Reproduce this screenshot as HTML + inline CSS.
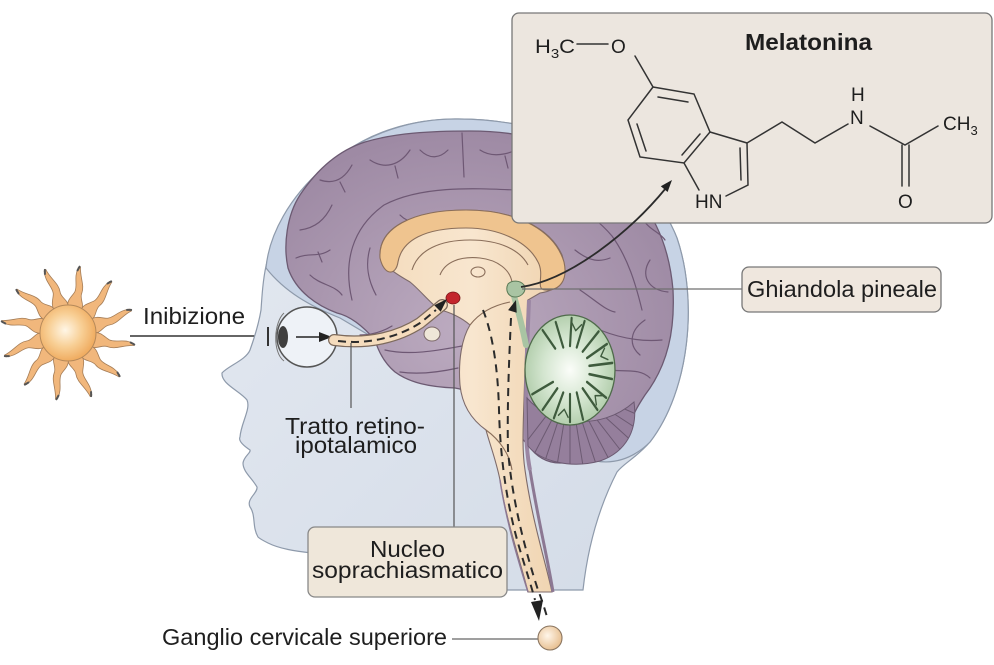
<!DOCTYPE html>
<html><head><meta charset="utf-8"><style>
html,body{margin:0;padding:0;background:#fff;}
svg{display:block;}
text{font-family:"Liberation Sans",Arial,sans-serif;fill:#1e1e1e;}
</style></head><body>
<svg width="994" height="665" viewBox="0 0 994 665" xmlns="http://www.w3.org/2000/svg">
<defs>
<radialGradient id="sunG" cx="0.45" cy="0.45" r="0.6"><stop offset="0" stop-color="#fff6e6"/><stop offset="0.5" stop-color="#f8cf95"/><stop offset="1" stop-color="#eea556"/></radialGradient>
<linearGradient id="headG" x1="0" y1="0" x2="1" y2="1"><stop offset="0" stop-color="#e4e9f1"/><stop offset="1" stop-color="#d3dbe7"/></linearGradient>
<radialGradient id="brainG" cx="0.45" cy="0.6" r="0.6"><stop offset="0" stop-color="#bcabc0"/><stop offset="1" stop-color="#9e8aa4"/></radialGradient>
<radialGradient id="cbG" cx="0.5" cy="0.5" r="0.5"><stop offset="0" stop-color="#fbfdf9"/><stop offset="0.6" stop-color="#d3e5cf"/><stop offset="1" stop-color="#b4cfae"/></radialGradient>
<linearGradient id="stemG" x1="0" y1="0" x2="1" y2="0"><stop offset="0" stop-color="#f4dcbd"/><stop offset="0.5" stop-color="#f8e6cf"/><stop offset="1" stop-color="#efd2ad"/></linearGradient>
<radialGradient id="gangG" cx="0.4" cy="0.4" r="0.6"><stop offset="0" stop-color="#fff6ea"/><stop offset="1" stop-color="#e8c193"/></radialGradient>
<clipPath id="lowcb"><path d="M527,398 C550,425 600,432 634,402 C638,430 626,452 600,461 C570,469 540,461 528,446 Z"/></clipPath>
<g id="ray">
<path d="M-7,-25 C-10,-32 -5,-37 -4,-42 C-3,-49 -9,-55 -7,-66 L-5,-67 C-3,-57 4,-50 3,-42 C2,-36 9,-32 7,-25 Z" fill="#f1b77c" stroke="#a57d57" stroke-width="0.8"/>
<path d="M-7,-63 L-6,-67" stroke="#555" stroke-width="2" stroke-linecap="round"/>
</g>
</defs>

<!-- SUN -->
<g transform="translate(68,333)">
<use href="#ray" transform="rotate(15)"/>
<use href="#ray" transform="rotate(45)"/>
<use href="#ray" transform="rotate(75)"/>
<use href="#ray" transform="rotate(105)"/>
<use href="#ray" transform="rotate(135)"/>
<use href="#ray" transform="rotate(165)"/>
<use href="#ray" transform="rotate(195)"/>
<use href="#ray" transform="rotate(225)"/>
<use href="#ray" transform="rotate(255)"/>
<use href="#ray" transform="rotate(285)"/>
<use href="#ray" transform="rotate(315)"/>
<use href="#ray" transform="rotate(345)"/>
<circle r="28" fill="url(#sunG)" stroke="#b5895a" stroke-width="1"/>
</g>

<!-- Inibizione -->
<text x="143" y="324" font-size="23" textLength="102" lengthAdjust="spacingAndGlyphs">Inibizione</text>
<line x1="130" y1="336" x2="268" y2="336" stroke="#333" stroke-width="1.5"/>

<!-- HEAD -->
<path d="M300,200 C330,150 385,120 455,119 C560,118 650,168 677,238 C698,300 690,390 650,442 C636,458 624,463 617,472 C600,505 588,545 583,590 L330,590 L312,553 C295,551 280,549 268,543 C262,540 259,538 258,537 C252,527 256,515 250,507 C246,499 258,493 257,487 C252,478 243,472 243,463 C244,456 251,453 250,450 C244,446 238,441 240,437 C241,423 251,409 247,400 C240,391 221,384 222,373 C228,366 246,360 250,350 C255,336 259,322 261,310 C262,295 263,280 266,266 C270,245 283,222 300,200 Z" fill="url(#headG)" stroke="#8e9aab" stroke-width="1.2"/>
<!-- skull band -->
<path d="M266,268 C272,200 350,119 455,119 C560,118 650,168 677,238 C698,300 690,390 650,442 C632,460 612,464 596,461 L540,450 L470,395 L340,318 C310,306 285,292 266,268 Z" fill="#c7d3e5" stroke="#8e9aab" stroke-width="1.2"/>

<!-- BRAIN -->
<path d="M337,313 C318,306 296,292 288,268 C283,245 287,215 300,195 C318,168 340,150 365,142 C395,133 430,131 470,131 C500,131 530,135 555,145 C590,158 620,175 640,200 C660,225 670,255 673,290 C675,330 668,365 645,395 C635,410 630,420 625,440 C615,458 590,463 560,463 C545,463 535,455 528,445 L505,420 C485,400 470,390 455,388 C430,387 410,383 395,372 C383,362 378,350 375,340 C362,325 350,316 337,313 Z" fill="url(#brainG)" stroke="#6c5a72" stroke-width="1.3"/>

<!-- sulci -->
<g fill="none" stroke="#6e5874" stroke-width="1.2" stroke-linecap="round">
<path d="M352,300 C343,262 352,228 384,205 C420,186 470,188 515,190 C556,192 590,210 612,236 C628,258 636,285 642,310"/>
<path d="M462,133 L464,177"/>
<path d="M300,230 C315,228 325,220 332,205"/>
<path d="M296,258 C310,252 318,258 330,250 M318,252 L322,262"/>
<path d="M320,180 C335,185 345,178 352,165 M340,182 L345,192"/>
<path d="M370,160 C385,170 400,165 410,150 M395,166 L398,178"/>
<path d="M420,150 C430,160 440,158 448,150"/>
<path d="M480,150 C495,160 515,152 525,145 M505,156 L508,168"/>
<path d="M540,160 C555,172 570,168 580,160 M560,170 L556,180"/>
<path d="M595,175 C605,190 620,195 632,192 M612,190 L608,200"/>
<path d="M640,215 C648,230 660,232 665,240"/>
<path d="M650,260 C640,275 648,290 668,292"/>
<path d="M645,320 C630,330 628,345 640,355"/>
<path d="M600,330 C620,338 640,342 662,340"/>
<path d="M610,370 C625,372 640,368 650,378"/>
<path d="M310,275 C320,285 335,285 342,295"/>
<path d="M400,215 C410,225 420,222 430,215 M415,222 L413,232"/>
<path d="M520,205 C535,210 550,205 560,212"/>
<path d="M575,250 C590,262 600,262 610,258"/>
<path d="M580,290 C595,300 605,310 615,312"/>
<path d="M370,248 C365,265 368,280 376,295"/>
<path d="M385,350 C410,356 440,350 462,346"/>
<path d="M400,372 C420,375 440,372 458,368"/>
<path d="M360,335 C372,335 382,332 392,326"/>
</g>

<!-- diencephalon + brainstem -->
<path d="M380,255 C380,228 410,211 465,210 C515,210 550,228 562,255 C568,275 562,290 540,293 L528,300 C526,330 525,370 524,400 C523,430 522,450 525,470 C532,520 545,560 552,592 L528,592 C520,560 506,520 500,480 C496,460 490,445 486,430 C472,420 462,405 460,385 C458,360 462,338 470,325 C462,318 450,312 440,310 C430,303 420,290 410,282 C398,275 385,268 380,255 Z" fill="url(#stemG)" stroke="#7d6a6a" stroke-width="1.1"/>
<!-- corpus callosum -->
<path d="M380,258 C378,228 412,210 466,210 C520,210 555,232 564,262 C568,280 560,291 545,290 C535,289 545,275 538,262 C528,242 500,228 466,228 C425,228 402,240 398,262 C396,276 384,276 380,258 Z" fill="#efc48f" stroke="#8a6e5a" stroke-width="1.1"/>
<g fill="none" stroke="#8a6e5a" stroke-width="1.1">
<path d="M412,270 C418,250 440,240 470,240 C500,240 520,250 528,265"/>
<path d="M440,275 C445,262 460,256 480,258 C498,260 510,270 512,282"/>
<ellipse cx="478" cy="272" rx="7" ry="5"/>
<path d="M470,325 C480,312 495,305 510,302"/>
<path d="M486,430 C500,440 510,455 512,470"/>
</g>
<!-- purple strip right of brainstem -->
<path d="M529,300 C527,340 526,380 526,420 C526,440 527,455 530,470" fill="none" stroke="#9b86a3" stroke-width="4"/>
<path d="M530,470 C538,520 548,560 553,592" fill="none" stroke="#8c7893" stroke-width="3"/>
<path d="M500,480 C506,520 518,560 528,592" fill="none" stroke="#8c7893" stroke-width="1.5"/>
<!-- pituitary -->
<ellipse cx="432" cy="334" rx="8" ry="7" fill="#efe6d8" stroke="#7d6a6a" stroke-width="1"/>

<!-- lower cerebellum striated -->
<path d="M527,398 C550,425 600,432 634,402 C638,430 626,452 600,461 C570,469 540,461 528,446 Z" fill="#957f9c" stroke="#6c5a72" stroke-width="1"/>
<g clip-path="url(#lowcb)" stroke="#6c5a72" stroke-width="1" fill="none">
<path d="M570,385 L520,450 M570,385 L530,462 M570,385 L542,470 M570,385 L556,472 M570,385 L570,472 M570,385 L584,472 M570,385 L598,470 M570,385 L612,465 M570,385 L625,456 M570,385 L636,445 M570,385 L642,432 M570,385 L645,418"/>
</g>

<!-- CEREBELLUM -->
<ellipse cx="570" cy="370" rx="45" ry="55" fill="url(#cbG)" stroke="#4f6b4b" stroke-width="1.3"/>
<g transform="translate(570,370) scale(0.82,1)" stroke="#3e5b3d" stroke-width="2.6" stroke-linecap="round" fill="none">
<path d="M0,-24 L0,-51" transform="rotate(-20)"/>
<path d="M0,-24 L2,-52" transform="rotate(0)"/>
<path d="M0,-24 L0,-52" transform="rotate(20)"/>
<path d="M0,-24 L2,-52" transform="rotate(40)"/>
<path d="M0,-24 L0,-52" transform="rotate(60)"/>
<path d="M0,-24 L2,-52" transform="rotate(80)"/>
<path d="M0,-24 L0,-52" transform="rotate(100)"/>
<path d="M0,-24 L2,-52" transform="rotate(120)"/>
<path d="M0,-24 L0,-52" transform="rotate(140)"/>
<path d="M0,-24 L2,-52" transform="rotate(160)"/>
<path d="M0,-24 L0,-52" transform="rotate(180)"/>
<path d="M0,-24 L2,-52" transform="rotate(200)"/>
<path d="M0,-24 L0,-52" transform="rotate(220)"/>
<path d="M0,-24 L2,-52" transform="rotate(240)"/>
<path d="M0,-28 L0,-52" transform="rotate(-40)"/>
<path d="M0,-40 L-6,-47 M0,-40 L6,-47" transform="rotate(10)" stroke-width="1.6"/>
<path d="M0,-40 L-6,-47 M0,-40 L6,-47" transform="rotate(70)" stroke-width="1.6"/>
<path d="M0,-40 L-6,-47 M0,-40 L6,-47" transform="rotate(130)" stroke-width="1.6"/>
<path d="M0,-40 L-6,-47 M0,-40 L6,-47" transform="rotate(190)" stroke-width="1.6"/>
</g>

<!-- pineal stalk + gland -->
<path d="M514,296 C518,310 522,325 526,345" fill="none" stroke="#a9c4a3" stroke-width="6" stroke-linecap="round"/>
<path d="M508,284 C512,280 520,280 524,285 C527,291 522,297 515,297 C508,297 505,290 508,284 Z" fill="#a9c4a3" stroke="#5a7a56" stroke-width="1"/>

<!-- SCN -->
<ellipse cx="453" cy="298" rx="7" ry="6" fill="#c3252c" stroke="#7a1518" stroke-width="0.8"/>

<!-- dashed pathway in brainstem -->
<g fill="none" stroke="#2b2b2b" stroke-width="2" stroke-dasharray="8,6">
<path d="M483,310 C493,335 498,370 499,410 C500,450 505,500 520,550 C526,570 531,585 535,600"/>
<path d="M511,318 C509,360 507,410 508,450 C512,500 525,550 538,590 C542,600 545,610 548,620"/>
</g>
<polygon points="516,300 516.7,312.8 508.1,310.1" fill="#222"/>
<polygon points="531,602 543,600 539,621" fill="#222"/>

<!-- EYE -->
<circle cx="307" cy="337" r="30" fill="#eef2f7" stroke="#555" stroke-width="1.5"/>
<path d="M284,313 C274,322 272,352 284,361" fill="none" stroke="#777" stroke-width="1"/>
<ellipse cx="283" cy="337" rx="5" ry="11" fill="#3f3f3f"/>
<line x1="296" y1="337" x2="322" y2="337" stroke="#222" stroke-width="1.6"/>
<polygon points="319,332 332,337 319,342" fill="#222"/>
<line x1="268" y1="327" x2="268" y2="346" stroke="#333" stroke-width="2"/>

<!-- optic tract -->
<path d="M334,340 C370,345 400,336 420,323 C430,315 436,310 442,305" fill="none" stroke="#7d6a5c" stroke-width="12" stroke-linecap="round"/>
<path d="M334,340 C370,345 400,336 420,323 C430,315 436,310 442,305" fill="none" stroke="#f5dcbd" stroke-width="9.5" stroke-linecap="round"/>
<path d="M338,341 C370,345 400,336 420,323 C428,317 432,313 436,310" fill="none" stroke="#2b2b2b" stroke-width="2" stroke-dasharray="8,5"/>
<polygon points="447,299 440.7,311.7 434.3,305.3" fill="#222"/>

<!-- leader lines -->
<line x1="351" y1="343" x2="351" y2="408" stroke="#555" stroke-width="1.2"/>
<line x1="454" y1="305" x2="454" y2="527" stroke="#555" stroke-width="1.2"/>
<line x1="522" y1="289" x2="742" y2="289" stroke="#6f6f6f" stroke-width="1.2"/>

<!-- Chem box -->
<rect x="512" y="13" width="480" height="210" rx="7" fill="#ece6df" stroke="#777" stroke-width="1.3"/>
<text x="745" y="50" font-size="23" font-weight="bold" textLength="127" lengthAdjust="spacingAndGlyphs">Melatonina</text>
<g font-size="19">
<text x="535" y="53" textLength="40" lengthAdjust="spacingAndGlyphs">H<tspan font-size="13" dy="5">3</tspan><tspan dy="-5">C</tspan></text>
<text x="611" y="53">O</text>
<text x="695" y="208">HN</text>
<text x="851" y="101">H</text>
<text x="850" y="124">N</text>
<text x="943" y="130">CH<tspan font-size="13" dy="5">3</tspan></text>
<text x="898" y="208">O</text>
</g>
<g fill="none" stroke="#333" stroke-width="1.5" stroke-linecap="round">
<line x1="577" y1="44" x2="608" y2="44"/>
<line x1="635" y1="56" x2="653" y2="87"/>
<!-- benzene -->
<path d="M653,87 L694,94 L710,132 L684,163 L640,157 L628,120 Z"/>
<line x1="658" y1="97" x2="688" y2="102"/>
<line x1="637" y1="124" x2="646" y2="151"/>
<line x1="700" y1="134" x2="682" y2="155"/>
<!-- five ring -->
<path d="M710,132 L747,143 L748,185 L726,196"/>
<path d="M684,163 L699,190"/>
<line x1="740" y1="148" x2="741" y2="180"/>
<!-- side chain -->
<path d="M747,143 L782,122 L815,143 L848,124"/>
<path d="M870,126 L905,145 L938,126"/>
<line x1="902" y1="145" x2="902" y2="186"/>
<line x1="909" y1="145" x2="909" y2="186"/>
</g>
<!-- pineal arrow -->
<path d="M521,287 C570,280 630,232 666,188" fill="none" stroke="#2b2b2b" stroke-width="1.8"/>
<polygon points="672,180 667.6,192 660.8,186.2" fill="#222"/>

<!-- Ghiandola box -->
<rect x="742" y="267" width="199" height="45" rx="7" fill="#efe7de" stroke="#777" stroke-width="1.3"/>
<text x="747" y="297" font-size="23" textLength="190" lengthAdjust="spacingAndGlyphs">Ghiandola pineale</text>

<!-- Tratto label -->
<text x="285" y="434" font-size="23" textLength="140" lengthAdjust="spacingAndGlyphs">Tratto retino-</text>
<text x="295" y="453" font-size="23" textLength="122" lengthAdjust="spacingAndGlyphs">ipotalamico</text>

<!-- Nucleo box -->
<rect x="308" y="527" width="199" height="70" rx="7" fill="#efe7da" stroke="#888" stroke-width="1.3"/>
<text x="370" y="557" font-size="23" textLength="75" lengthAdjust="spacingAndGlyphs">Nucleo</text>
<text x="312" y="578" font-size="23" textLength="191" lengthAdjust="spacingAndGlyphs">soprachiasmatico</text>

<!-- Ganglio -->
<text x="162" y="645" font-size="23" textLength="285" lengthAdjust="spacingAndGlyphs">Ganglio cervicale superiore</text>
<line x1="452" y1="639" x2="538" y2="639" stroke="#666" stroke-width="1.2"/>
<circle cx="550" cy="638" r="12" fill="url(#gangG)" stroke="#8a7560" stroke-width="1.1"/>
</svg>
</body></html>
